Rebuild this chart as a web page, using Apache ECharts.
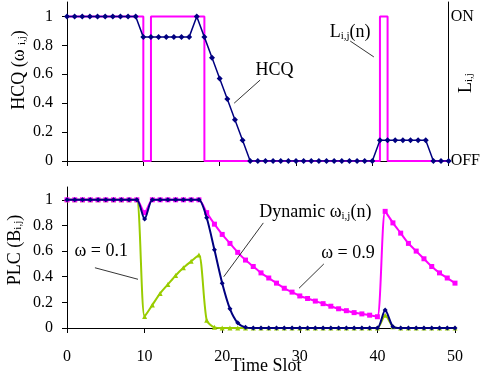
<!DOCTYPE html>
<html><head><meta charset="utf-8">
<script src="https://cdn.jsdelivr.net/npm/echarts@6/dist/echarts.min.js"></script>
<style>html,body{margin:0;padding:0;background:#fff}#c{width:483px;height:373px}</style>
</head><body><div id="c"></div>
<script>
// ---- data ----
const timeSlots = [0,1,2,3,4,5,6,7,8,9,10,11,12,13,14,15,16,17,18,19,20,21,22,23,24,25,26,27,28,29,30,31,32,33,34,35,36,37,38,39,40,41,42,43,44,45,46,47,48,49,50];
const hcq = [1,1,1,1,1,1,1,1,1,1,
  0.857,0.857,0.857,0.857,0.857,0.857,0.857,
  1,
  0.857,0.714,0.571,0.429,0.286,0.143,
  0,0,0,0,0,0,0,0,0,0,0,0,0,0,0,0,0,
  0.143,0.143,0.143,0.143,0.143,0.143,0.143,
  0,0,0];
const linkState = [1,1,1,1,1,1,1,1,1,1,
  0,
  1,1,1,1,1,1,1,
  0,0,0,0,0,0,0,0,0,0,0,0,0,0,0,0,0,0,0,0,0,0,0,
  1,
  0,0,0,0,0,0,0,0,0];
const plcDynamic = [1,1,1,1,1,1,1,1,1,1,
  0.85,
  1,1,1,1,1,1,1,
  0.86,0.61,0.35,0.15,0.04,0.005,
  0,0,0,0,0,0,0,0,0,0,0,0,0,0,0,0,0,
  0.14,0.01,
  0,0,0,0,0,0,0,0];
const plcW09 = [1,1,1,1,1,1,1,1,1,1,
  0.9,
  1,1,1,1,1,1,1,
  0.9,0.81,0.73,0.66,0.59,0.53,0.48,0.43,0.39,0.35,0.31,0.28,0.25,0.23,0.21,0.19,0.17,0.15,0.135,0.12,0.11,0.10,0.088,
  0.91,0.82,0.74,0.66,0.60,0.54,0.48,0.43,0.39,0.35];
const plcW01 = [1,1,1,1,1,1,1,1,1,1,
  0.09,0.18,0.27,0.34,0.41,0.47,0.52,0.57,
  0.06,0.005,
  0,0,0,0,0,0,0,0,0,0,0,0,0,0,0,0,0,0,0,0,0,
  0.1,0.01,
  0,0,0,0,0,0,0,0];
const xTicks = [0,10,20,30,40,50];
const yTicks = [0,0.2,0.4,0.6,0.8,1];
const linkTicks = [0,1];
const linkTickLabels = ['OFF','ON'];

// annotation texts (data coordinates) and arrows
const topNotes = [
  {coord:[27.2,0.63], text:'{a|HCQ}'},
  {coord:[37.1,0.89], text:'{a|L}{s|i,j}{a|(n)}'}
];
const topArrows = [
  [[25.3,0.56],[21.9,0.40]],
  [[37.1,0.83],[40.2,0.72]]
];
const botNotes = [
  {coord:[4.4,0.60], text:'{a|ω = 0.1}'},
  {coord:[32.0,0.90], text:'{a|Dynamic ω}{s|i,j}{a|(n)}'},
  {coord:[36.2,0.58], text:'{a|ω = 0.9}'}
];
const botArrows = [
  [[3.6,0.47],[9.15,0.38]],
  [[25.3,0.82],[20.2,0.40]],
  [[33.1,0.50],[29.9,0.31]]
];

const serif = 'Liberation Serif';
const NAVY = '#000080', MAG = '#FF00FF', GREEN = '#99CC00';
function richSet(size){
  return {
    a:{fontFamily:serif,fontSize:size,color:'#000'},
    s:{fontFamily:serif,fontSize:Math.round(size*0.6),color:'#000',verticalAlign:'bottom'}
  };
}
const pairs = arr => arr.map((v,i)=>[timeSlots[i], v]);

function notesMP(notes){
  return {
    symbol:'circle', symbolSize:1, silent:true,
    itemStyle:{color:'rgba(0,0,0,0)'},
    label:{show:true, position:'inside', rich:richSet(18), formatter:p=>p.data.text},
    data: notes.map(n=>({coord:n.coord, text:n.text}))
  };
}
function arrowsML(arrows){
  return {
    silent:true, symbol:['none','arrow'], symbolSize:[0,6], animation:false,
    lineStyle:{color:'#000', width:0.8, type:'solid'},
    label:{show:false},
    data: arrows.map(a=>[{coord:a[0]},{coord:a[1]}])
  };
}

const axisTextStyle = {fontFamily:serif, fontSize:16, color:'#000'};
const blackLine = {lineStyle:{color:'#000', width:1}};

const chart = echarts.init(document.getElementById('c'));
chart.setOption({
  animation:false,
  grid:[
    {left:67, top:2, width:388, height:159},
    {left:67, top:187, width:388, height:141}
  ],
  xAxis:[
    {gridIndex:0, type:'value', min:0, max:50, interval:10,
     axisLine:blackLine, axisTick:{show:true, inside:false, length:5, lineStyle:{color:'#000'}},
     axisLabel:{show:false}, splitLine:{show:false}},
    {gridIndex:1, type:'value', min:0, max:50, interval:10,
     axisLine:blackLine, axisTick:{show:true, inside:false, length:5, lineStyle:{color:'#000'}},
     axisLabel:Object.assign({margin:21, customValues:xTicks}, axisTextStyle), splitLine:{show:false}}
  ],
  yAxis:[
    {gridIndex:0, type:'value', min:0, max:1.1,
     axisLine:Object.assign({show:true}, blackLine),
     axisTick:{show:true, length:5, customValues:yTicks, lineStyle:{color:'#000'}},
     axisLabel:Object.assign({margin:14, customValues:yTicks}, axisTextStyle), splitLine:{show:false}},
    {gridIndex:0, type:'value', position:'right', min:0, max:1.1,
     axisLine:Object.assign({show:true}, blackLine),
     axisTick:{show:false},
     axisLabel:Object.assign({margin:2, customValues:linkTicks,
       formatter:v=>linkTickLabels[linkTicks.indexOf(v)] || ''}, axisTextStyle),
     splitLine:{show:false}},
    {gridIndex:1, type:'value', min:0, max:1.1,
     axisLine:Object.assign({show:true}, blackLine),
     axisTick:{show:true, length:5, customValues:yTicks, lineStyle:{color:'#000'}},
     axisLabel:Object.assign({margin:14, customValues:yTicks}, axisTextStyle), splitLine:{show:false}}
  ],
  series:[
    {type:'line', xAxisIndex:0, yAxisIndex:0, data:pairs(hcq),
     symbol:'diamond', symbolSize:6, showAllSymbol:true,
     lineStyle:{color:NAVY, width:1.5}, itemStyle:{color:NAVY}, z:3,
     markLine:arrowsML(topArrows), markPoint:notesMP(topNotes)},
    {type:'line', xAxisIndex:0, yAxisIndex:0, data:pairs(linkState), step:'end',
     showSymbol:false, lineStyle:{color:MAG, width:2}, itemStyle:{color:MAG}, z:2},
    {type:'line', xAxisIndex:1, yAxisIndex:2, data:pairs(plcW01), smooth:0.25,
     symbol:'triangle', symbolSize:5, showAllSymbol:true,
     lineStyle:{color:GREEN, width:2}, itemStyle:{color:GREEN}, z:2},
    {type:'line', xAxisIndex:1, yAxisIndex:2, data:pairs(plcW09), smooth:0.25,
     symbol:'rect', symbolSize:5, showAllSymbol:true,
     lineStyle:{color:MAG, width:2}, itemStyle:{color:MAG}, z:3},
    {type:'line', xAxisIndex:1, yAxisIndex:2, data:pairs(plcDynamic), smooth:0.25,
     symbol:'diamond', symbolSize:5, showAllSymbol:true,
     lineStyle:{color:NAVY, width:2}, itemStyle:{color:NAVY}, z:4,
     markLine:arrowsML(botArrows), markPoint:notesMP(botNotes)}
  ],
  graphic:[
    {type:'text', x:19, y:70, rotation:Math.PI/2, silent:true,
     style:{text:'{a|HCQ (ω }{s|i,j}{a|)}', rich:richSet(18), align:'center', verticalAlign:'middle'}},
    {type:'text', x:15, y:250, rotation:Math.PI/2, silent:true,
     style:{text:'{a|PLC (B}{s|i,j}{a|)}', rich:richSet(18), align:'center', verticalAlign:'middle'}},
    {type:'text', x:466, y:83, rotation:Math.PI/2, silent:true,
     style:{text:'{a|L}{s|i,j}', rich:richSet(18), align:'center', verticalAlign:'middle'}},
    {type:'text', x:266, y:366, silent:true,
     style:{text:'Time Slot', fontFamily:serif, fontSize:18, fill:'#000', align:'center', verticalAlign:'middle'}}
  ]
});
</script></body></html>
